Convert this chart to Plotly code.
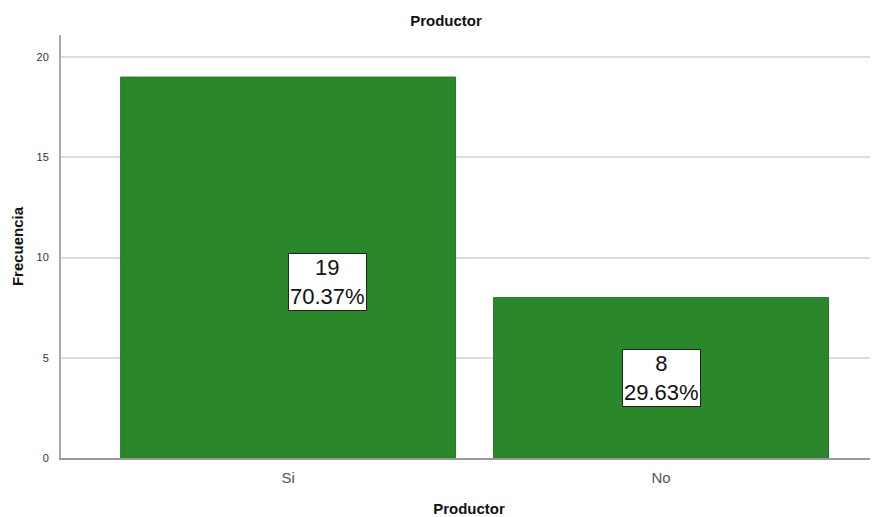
import plotly.graph_objects as go

categories = ["Si", "No"]
counts = [19, 8]
percents = ["70.37%", "29.63%"]

bar_color = "#2a872a"

W, H = 870, 509  # page body has 8px default margin

fig = go.Figure()
fig.add_trace(go.Bar(
    x=categories, y=counts, width=0.898,
    marker=dict(color=bar_color, line=dict(color="#237523", width=1)),
    hoverinfo="skip",
))

shifts = [(39, -14), (0, 0)]
for c, v, p, (dx, dy) in zip(categories, counts, percents, shifts):
    fig.add_annotation(
        x=c, y=v / 2, xref="x", yref="y",
        text=f"{v}<br>{p}", showarrow=False,
        font=dict(family="Liberation Sans, Arial", size=22, color="#111"),
        bgcolor="white", bordercolor="#222", borderwidth=1, borderpad=1,
        xshift=dx, yshift=dy,
    )

fig.update_layout(
    width=W, height=H,
    margin=dict(l=53, r=1, t=27, b=59),
    paper_bgcolor="white", plot_bgcolor="white",
    showlegend=False,
    title=dict(text="<b>Productor</b>", x=438 / W, xanchor="center",
               y=1 - 13 / H, yanchor="middle",
               font=dict(family="Liberation Sans, Arial", size=15, color="#111")),
    xaxis=dict(
        type="category", range=[-0.609, 1.579],
        showgrid=False, showline=True, linecolor="#9a9a9a", linewidth=2,
        ticks="", ticklabelstandoff=5,
        tickfont=dict(family="Liberation Sans, Arial", size=15, color="#555"),
        title=dict(text="<b>Productor</b>", standoff=19,
                   font=dict(family="Liberation Sans, Arial", size=15, color="#111")),
        zeroline=False, automargin=False,
    ),
    yaxis=dict(
        range=[0, 21.1], tickvals=[0, 5, 10, 15, 20],
        showgrid=True, gridcolor="#dcdcdc", gridwidth=2,
        showline=True, linecolor="#aaaaaa", linewidth=2,
        ticks="", ticklabelstandoff=8,
        tickfont=dict(family="Liberation Sans, Arial", size=11, color="#333"),
        title=dict(text="<b>Frecuencia</b>", standoff=9,
                   font=dict(family="Liberation Sans, Arial", size=15, color="#111")),
        zeroline=False, automargin=False,
    ),
)

fig.write_html("out.html")
